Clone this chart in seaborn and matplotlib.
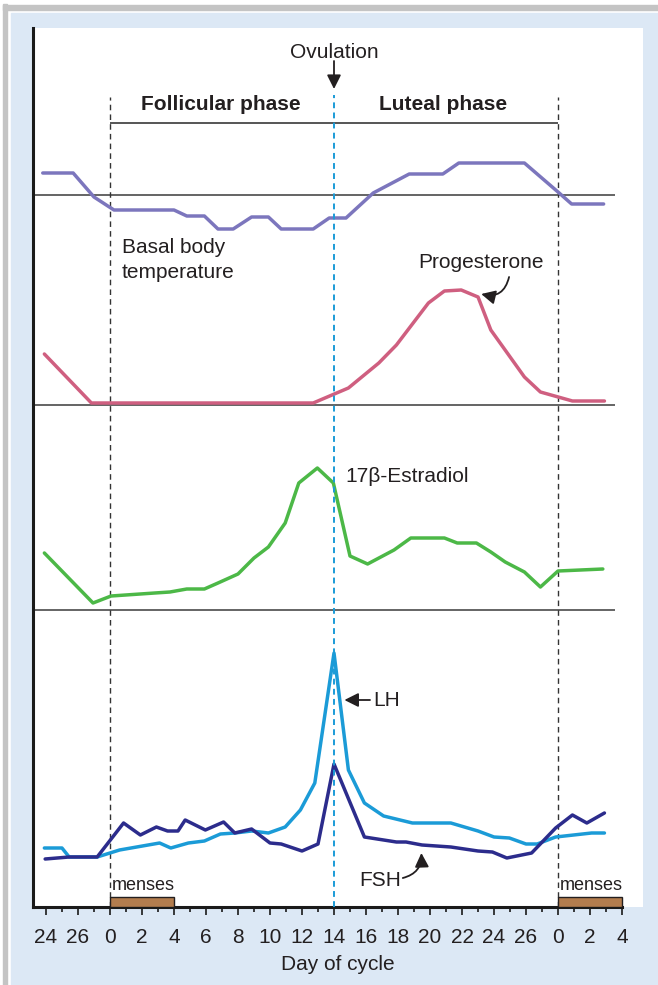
#!/usr/bin/env python3

import numpy as np
import pandas as pd
import matplotlib
matplotlib.use("Agg")
import matplotlib.pyplot as plt
from matplotlib.patches import Rectangle
import seaborn as sns

# ======================================================
# DATA (day 0 = first day of menses,
# negative days = end of the previous cycle, >28 = next cycle)
# levels are arbitrary units above each trace's own baseline
# ======================================================
BBT_DAY = [-4.2, -2.3, -1.0, 0.25, 4.0, 4.8, 5.9, 6.75, 7.7, 8.85, 9.9, 10.7,
           12.7, 13.7, 14.75, 16.45, 18.7, 20.8, 21.8, 25.9, 28.0, 28.85, 30.85]
BBT_LEVEL = [22, 22, -2, -15, -15, -21, -21, -34, -34, -22, -22, -34,
             -34, -23, -23, 2, 21, 21, 32, 32, 3, -9, -9]

PROG_DAY = [-4.1, -1.16, 12.7, 14.9, 16.8, 17.9, 19.9, 20.9, 21.95, 23.0,
            23.8, 25.9, 26.9, 28.9, 30.9]
PROG_LEVEL = [51, 2, 2, 17, 42, 60, 102, 114, 115, 108, 75, 28, 13, 4, 4]

E2_DAY = [-4.1, -1.06, 0.07, 2.8, 3.75, 4.8, 5.9, 6.75, 8.0, 9.0, 9.9, 10.95,
          11.8, 12.96, 13.96, 15.0, 16.1, 17.75, 18.8, 20.9, 21.7, 22.9, 23.8,
          24.7, 25.9, 26.9, 28.0, 30.8]
E2_LEVEL = [57, 7, 14, 17, 18, 21, 21, 27, 36, 52, 63, 87, 127, 142, 127, 54,
            46, 60, 72, 72, 67, 67, 58, 48, 38, 23, 39, 41]

LH_DAY = [-4.1, -3.0, -2.55, -0.8, 0.6, 3.1, 3.8, 4.9, 5.9, 6.9, 7.8, 8.85,
          9.9, 10.95, 11.9, 12.8, 14.0, 14.9, 15.9, 17.1, 18.9, 21.3, 23.0,
          24.0, 24.96, 26.0, 26.7, 27.85, 30.1, 30.9]
LH_LEVEL = [59, 59, 50, 50, 57, 64, 59, 64, 66, 73, 74, 76, 74, 80, 97, 124,
            254, 137, 104, 91, 84, 84, 76, 70, 69, 63, 63, 70, 74, 74]

FSH_DAY = [-4.05, -2.55, -0.8, 0.85, 1.9, 2.9, 3.6, 4.25, 4.7, 5.96, 7.1, 7.8,
           8.85, 10.0, 10.7, 12.0, 13.0, 14.0, 15.9, 17.9, 18.5, 19.5, 21.3,
           23.0, 23.9, 24.8, 26.35, 27.85, 28.9, 29.8, 30.9]
FSH_LEVEL = [48, 50, 50, 84, 72, 80, 76, 76, 87, 77, 85, 74, 78, 64, 63, 56,
             63, 143, 70, 65, 65, 62, 60, 56, 55, 49, 54, 79, 92, 84, 94]

MENSES_START = [0, 28]
MENSES_DAYS = [4, 4]
PHASE_BOUNDS = [0, 14, 28]          # menses, ovulation, next menses

TICK_POS = list(range(-4, 33, 2))
TICK_LABELS = ["24", "26"] + [str(d) for d in range(0, 28, 2)] + ["0", "2", "4"]

# vertical offset of each trace inside the single stacked panel
OFFSETS = {"BBT": 712, "Progesterone": 502, "Estradiol": 297, "LH": 0, "FSH": 0}

COLORS = {
    "BBT": "#7c76bd",
    "Progesterone": "#cf5f80",
    "Estradiol": "#4cb847",
    "LH": "#1b9bd7",
    "FSH": "#2c2c8c",
}

TXT = "#231f20"
BG = "#dce8f5"

# ======================================================
# LONG TABLE
# ======================================================
rows = []
for name, days, levels in [("BBT", BBT_DAY, BBT_LEVEL),
                           ("Progesterone", PROG_DAY, PROG_LEVEL),
                           ("Estradiol", E2_DAY, E2_LEVEL),
                           ("LH", LH_DAY, LH_LEVEL),
                           ("FSH", FSH_DAY, FSH_LEVEL)]:
    for d, v in zip(days, levels):
        rows.append({"Series": name, "Day": d, "Y": v + OFFSETS[name]})
df = pd.DataFrame(rows)

# ======================================================
# FIGURE
# ======================================================
sns.set_style("white")
plt.rcParams["font.family"] = ["Liberation Sans", "DejaVu Sans"]

fig = plt.figure(figsize=(6.58, 9.85), dpi=100)
fig.patch.set_facecolor("white")
W, H = 658, 985
# card background + grey frame (behind the axes)
fig.add_artist(Rectangle((11 / W, 0), 1, 1 - 13 / H, transform=fig.transFigure,
                         color=BG, zorder=-10))
fig.add_artist(Rectangle((3 / W, 0), 4 / W, 1 - 4 / H, transform=fig.transFigure,
                         color="#c4c4c4", zorder=-10))
fig.add_artist(Rectangle((3 / W, 1 - 10 / H), 1, 5 / H, transform=fig.transFigure,
                         color="#c4c4c4", zorder=-10))

ax = fig.add_axes([33 / W, (H - 907) / H, (643 - 33) / W, (907 - 28) / H])
ax.set_facecolor("white")
XMIN, XMAX = -4.81, 33.31
ax.set_xlim(XMIN, XMAX)
ax.set_ylim(0, 879)

# baselines of the upper traces
ax.hlines([OFFSETS["BBT"], OFFSETS["Progesterone"], OFFSETS["Estradiol"]],
          XMIN, 31.56, color="#3a3a3a", lw=1.1, zorder=1)

# phase boundaries
ax.vlines([PHASE_BOUNDS[0], PHASE_BOUNDS[2]], 0, 810, color="#333333", lw=1.0,
          linestyles=(0, (4, 3)), zorder=1)
ax.vlines(PHASE_BOUNDS[1], 0, 812, color="#1b9bd7", lw=1.4,
          linestyles=(0, (3, 2.2)), zorder=4)
ax.hlines(784, PHASE_BOUNDS[0], PHASE_BOUNDS[2], color="#555555", lw=1.4, zorder=1)

# hormone traces
sns.lineplot(data=df, x="Day", y="Y", hue="Series", palette=COLORS,
             hue_order=["BBT", "Progesterone", "Estradiol", "LH", "FSH"],
             estimator=None, sort=False, lw=2.5, legend=False, ax=ax, zorder=3)

# menses bars
ax.barh(y=5, width=MENSES_DAYS, left=MENSES_START, height=10, color="#b37d4e",
        edgecolor="#231f20", lw=1.0, zorder=3)

# ======================================================
# TEXT
# ======================================================
FS = 15
ARROW = dict(arrowstyle="-|>", color=TXT, lw=1.3, mutation_scale=21,
             shrinkA=0, shrinkB=0)
ax.text(14, 855, "Ovulation", ha="center", va="center", fontsize=FS, color=TXT)
ax.annotate("", xy=(14, 818), xytext=(14, 846), arrowprops=ARROW)
ax.text(6.94, 803, "Follicular phase", ha="center", va="center", fontsize=FS,
        fontweight="bold", color=TXT)
ax.text(20.8, 803, "Luteal phase", ha="center", va="center", fontsize=FS,
        fontweight="bold", color=TXT)

ax.text(0.75, 647, "Basal body\ntemperature", ha="left", va="center", fontsize=FS,
        color=TXT, linespacing=1.4)

ax.text(23.2, 645, "Progesterone", ha="center", va="center", fontsize=FS, color=TXT)
ax.annotate("", xy=(23.2, 613), xytext=(24.94, 630),
            arrowprops=dict(ARROW, connectionstyle="arc3,rad=-0.5"))

ax.text(14.7, 430, "17β-Estradiol", ha="left", va="center", fontsize=FS, color=TXT)

ax.text(16.44, 207, "LH", ha="left", va="center", fontsize=FS, color=TXT)
ax.annotate("", xy=(14.65, 207), xytext=(16.25, 207), arrowprops=ARROW)

ax.text(16.9, 27, "FSH", ha="center", va="center", fontsize=FS, color=TXT)
ax.annotate("", xy=(19.46, 54), xytext=(18.3, 29),
            arrowprops=dict(ARROW, connectionstyle="arc3,rad=0.4"))

for s in MENSES_START:
    ax.text(s + 0.1, 22, "menses", ha="left", va="center", fontsize=13, color=TXT)

# ======================================================
# AXES
# ======================================================
ax.spines["top"].set_visible(False)
ax.spines["right"].set_visible(False)
ax.spines["left"].set_linewidth(2.2)
ax.spines["left"].set_color("#1a1a1a")
ax.spines["bottom"].set_linewidth(2.2)
ax.spines["bottom"].set_color("#1a1a1a")
ax.spines["bottom"].set_bounds(XMIN, 32)

ax.set_yticks([])
ax.set_xticks(TICK_POS)
ax.set_xticklabels(TICK_LABELS)
ax.set_xticks(range(-3, 32, 2), minor=True)
ax.tick_params(axis="x", which="major", direction="out", length=6, width=1.2,
               pad=9, labelsize=FS, color="#1a1a1a", labelcolor=TXT, bottom=True)
ax.tick_params(axis="x", which="minor", direction="out", length=3.5, width=1.2,
               color="#1a1a1a", bottom=True)
ax.set_xlabel("Day of cycle", fontsize=FS, color=TXT, labelpad=6)
ax.set_ylabel("")

fig.savefig("out.png", dpi=100, facecolor=fig.get_facecolor())
